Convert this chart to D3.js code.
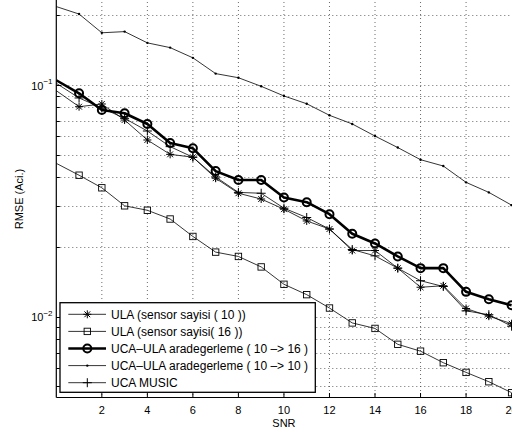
<!DOCTYPE html>
<meta charset="utf-8">
<style>

body {
  margin: 0;
  background: #fff;
  font-family: "Liberation Sans", Arial, Helvetica, sans-serif;
}

.grid line {
  stroke: #444;
  stroke-width: 0.8;
  stroke-dasharray: 1,3;
}

.tick-label {
  font-size: 11px;
}

.legend text {
  font-size: 12px;
}

</style>
<svg id="chart"></svg>
<script src="https://d3js.org/d3.v7.min.js"></script>
<script>

  // SNR steps
  let snr = [0, 1, 2, 3, 4, 5, 6, 7, 8, 9, 10, 11, 12, 13, 14, 15, 16, 17, 18, 19, 20];

  // RMSE values
  let ulaSensor10 = [0.0945, 0.0806, 0.0828, 0.0706, 0.0579, 0.0502, 0.0488, 0.0396, 0.0341, 0.0322, 0.0291, 0.0259, 0.0239, 0.0193, 0.0193, 0.0162, 0.0134, 0.0136, 0.01085, 0.01005, 0.00933];
  let ulaSensor16 = [0.0459, 0.0408, 0.0360, 0.0301, 0.0288, 0.0264, 0.0222, 0.0190, 0.0182, 0.0164, 0.0138, 0.01245, 0.0109, 0.0094, 0.0089, 0.0076, 0.0071, 0.00633, 0.00575, 0.00524, 0.0047];
  let ucaUla16 = [0.1048, 0.0921, 0.0780, 0.0755, 0.0679, 0.0562, 0.0533, 0.0425, 0.0389, 0.0389, 0.0327, 0.0312, 0.0277, 0.0228, 0.0207, 0.0182, 0.0162, 0.0162, 0.0128, 0.0119, 0.0112];
  let ucaUla10 = [0.218, 0.2024, 0.168, 0.170, 0.152, 0.145, 0.131, 0.112, 0.1075, 0.0987, 0.0897, 0.0830, 0.0740, 0.0679, 0.0602, 0.0537, 0.0476, 0.0447, 0.0380, 0.0344, 0.0303];
  let ucaMusic = [0.1017, 0.0879, 0.0796, 0.0718, 0.0633, 0.0542, 0.0488, 0.0401, 0.0344, 0.0341, 0.0294, 0.0268, 0.0239, 0.0195, 0.0183, 0.0162, 0.0143, 0.0135, 0.0106, 0.0102, 0.0091];

  let seriesNames = [
    "ULA (sensor sayisi ( 10 ))",
    "ULA (sensor sayisi( 16 ))",
    "UCA\u2013ULA aradegerleme ( 10 \u2013> 16 )",
    "UCA\u2013ULA aradegerleme ( 10 \u2013> 10 )",
    "UCA MUSIC"
  ];

  let xTicks = [2, 4, 6, 8, 10, 12, 14, 16, 18, 20];
  let yMajor = [0.01, 0.1];
  let yMinor = [0.005, 0.006, 0.007, 0.008, 0.009, 0.01, 0.02, 0.03, 0.04, 0.05, 0.06, 0.07, 0.08, 0.09, 0.1, 0.2];

  let series = [
    {name: seriesNames[0], values: ulaSensor10, marker: "star", width: 0.8},
    {name: seriesNames[1], values: ulaSensor16, marker: "square", width: 0.8},
    {name: seriesNames[2], values: ucaUla16, marker: "circle", width: 2.6},
    {name: seriesNames[3], values: ucaUla10, marker: "dot", width: 0.8},
    {name: seriesNames[4], values: ucaMusic, marker: "plus", width: 0.8}
  ];

  let W = 512, H = 434;

  let svg = d3.select("#chart")
  .attr("width", W)
  .attr("height", H);

  let plot = {left: 56.3, right: 511.6, top: -10, bottom: 397.5};

  let x = d3.scaleLinear()
  .domain([0, 20])
  .range([plot.left, plot.right]);

  let y = d3.scaleLog()
  .domain([0.01, 0.1])
  .range([316.7, 85]);

  svg.append("defs").append("clipPath")
  .attr("id", "clip")
  .append("rect")
  .attr("x", plot.left)
  .attr("y", plot.top)
  .attr("width", W - plot.left + 10)
  .attr("height", plot.bottom - plot.top);

  // dotted grid
  let grid = svg.append("g").attr("class", "grid");

  grid.selectAll(".gx")
  .data(xTicks.filter(d => d < 20))
  .enter().append("line")
  .attr("x1", d => x(d)).attr("x2", d => x(d))
  .attr("y1", plot.top).attr("y2", plot.bottom);

  grid.selectAll(".gy")
  .data(yMinor)
  .enter().append("line")
  .attr("x1", plot.left).attr("x2", W + 5)
  .attr("y1", d => Math.round(y(d)) + 0.5).attr("y2", d => Math.round(y(d)) + 0.5);

  // axis lines and inward ticks
  let axes = svg.append("g").attr("stroke", "#000").attr("stroke-width", 1.2);

  axes.append("line")
  .attr("x1", plot.left).attr("x2", plot.left)
  .attr("y1", plot.top).attr("y2", plot.bottom);

  axes.append("line")
  .attr("x1", plot.left).attr("x2", W + 5)
  .attr("y1", plot.bottom).attr("y2", plot.bottom);

  axes.selectAll(".tx")
  .data(xTicks)
  .enter().append("line")
  .attr("stroke-width", 1)
  .attr("x1", d => x(d)).attr("x2", d => x(d))
  .attr("y1", plot.bottom).attr("y2", plot.bottom - 4.5);

  axes.selectAll(".ty")
  .data(yMinor)
  .enter().append("line")
  .attr("stroke-width", 1)
  .attr("x1", plot.left).attr("x2", d => plot.left + (yMajor.includes(d) ? 5 : 3.5))
  .attr("y1", d => Math.round(y(d)) + 0.5).attr("y2", d => Math.round(y(d)) + 0.5);

  // tick labels
  svg.selectAll(".xl")
  .data(xTicks)
  .enter().append("text")
  .attr("class", "tick-label")
  .attr("x", d => x(d))
  .attr("y", 414)
  .attr("text-anchor", "middle")
  .text(d => d);

  let yl = svg.selectAll(".yl")
  .data(yMajor)
  .enter().append("text")
  .attr("class", "tick-label")
  .attr("x", 52.5)
  .attr("y", d => y(d) + 4.5)
  .attr("text-anchor", "end");

  yl.append("tspan").text("10");
  yl.append("tspan")
  .attr("dy", -5.5)
  .attr("font-size", 8)
  .text(d => "\u2212" + Math.round(-Math.log10(d)));

  svg.append("text")
  .attr("class", "tick-label")
  .attr("x", x(10))
  .attr("y", 427)
  .attr("text-anchor", "middle")
  .text("SNR");

  svg.append("text")
  .attr("class", "tick-label")
  .attr("transform", "translate(23,199) rotate(-90)")
  .attr("text-anchor", "middle")
  .text("RMSE (Aci.)");

  // markers
  function drawMarker(sel, type) {
    if (type === "star") {
      sel.append("path")
      .attr("d", "M-4,0H4M0,-4V4M-2.9,-2.9L2.9,2.9M-2.9,2.9L2.9,-2.9")
      .attr("stroke", "#000").attr("stroke-width", 1).attr("fill", "none");
    } else if (type === "square") {
      sel.append("rect")
      .attr("x", -3.2).attr("y", -3.2).attr("width", 6.4).attr("height", 6.4)
      .attr("stroke", "#000").attr("stroke-width", 0.9).attr("fill", "none");
    } else if (type === "circle") {
      sel.append("circle")
      .attr("r", 4)
      .attr("stroke", "#000").attr("stroke-width", 2).attr("fill", "none");
    } else if (type === "dot") {
      sel.append("circle")
      .attr("r", 1.2)
      .attr("fill", "#000");
    } else if (type === "plus") {
      sel.append("path")
      .attr("d", "M-4.5,0H4.5M0,-4.5V4.5")
      .attr("stroke", "#000").attr("stroke-width", 1).attr("fill", "none");
    }
  }

  let line = d3.line()
  .x(d => x(d[0]))
  .y(d => y(d[1]));

  let data = svg.append("g");

  series.forEach(s => {
    let pts = snr.map((v, i) => [v, s.values[i]]);

    data.append("path")
    .attr("clip-path", "url(#clip)")
    .attr("d", line(pts))
    .attr("fill", "none")
    .attr("stroke", "#000")
    .attr("stroke-width", s.width)
    .attr("stroke-linejoin", "round");

    data.selectAll(null)
    .data(pts.filter(d => d[0] > 0))
    .enter().append("g")
    .attr("transform", d => "translate(" + x(d[0]) + "," + y(d[1]) + ")")
    .each(function() { drawMarker(d3.select(this), s.marker); });
  });

  // legend
  let legend = svg.append("g").attr("class", "legend");

  legend.append("rect")
  .attr("x", 60).attr("y", 302.7)
  .attr("width", 255.3).attr("height", 89.6)
  .attr("fill", "#fff")
  .attr("stroke", "#000")
  .attr("stroke-width", 1.3);

  let rows = legend.selectAll(".row")
  .data(series)
  .enter().append("g")
  .attr("transform", (d, i) => "translate(0," + (314.3 + i * 17.1) + ")");

  rows.append("line")
  .attr("x1", 68.3).attr("x2", 106)
  .attr("stroke", "#000")
  .attr("stroke-width", d => d.width);

  rows.append("g")
  .attr("transform", "translate(87.3,0)")
  .each(function(d) { drawMarker(d3.select(this), d.marker); });

  rows.append("text")
  .attr("x", 111)
  .attr("y", 4.3)
  .text(d => d.name);

</script>
